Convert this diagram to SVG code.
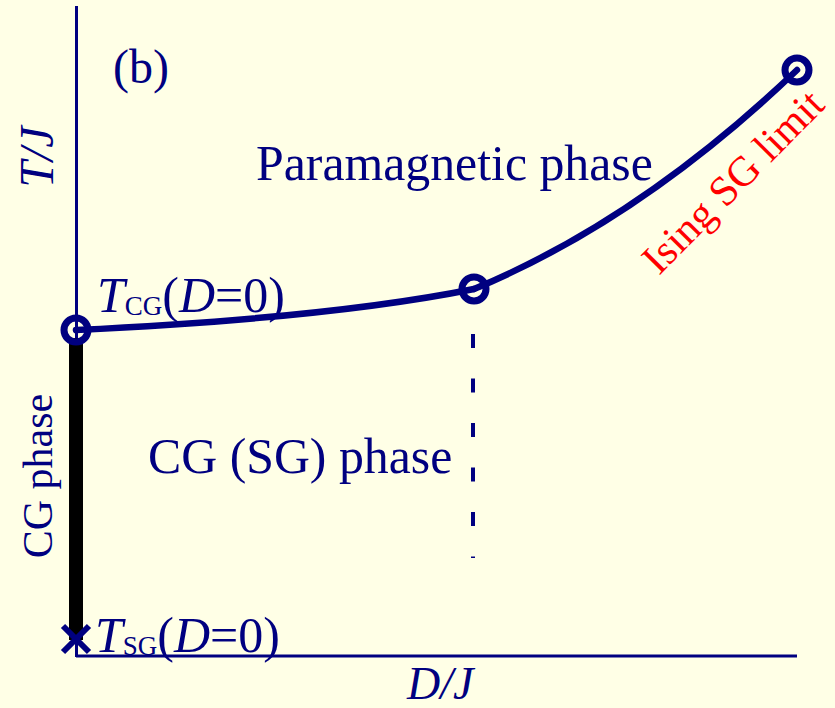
<svg xmlns="http://www.w3.org/2000/svg" width="835" height="708" viewBox="0 0 835 708">
<style>
.t{font-family:"Liberation Serif","Times New Roman",serif;fill:#000080}
.i{font-style:italic}
.ax{stroke:#000080;stroke-width:3;fill:none}
.cv{stroke:#000080;stroke-width:6.5;fill:none;stroke-linecap:round}
.ring{stroke:#000080;stroke-width:7;fill:none}
</style>
<rect width="835" height="708" fill="#FFFFE6"/>
<g id="axes">
<line class="ax" x1="76.5" y1="6" x2="76.5" y2="657"/>
<line class="ax" x1="76" y1="656" x2="797" y2="656"/>
</g>
<g id="connectors">
<path class="cv" d="M76,330 Q330,318 474,289"/>
<path class="cv" d="M474,289 Q640,220 797,70"/>
<line x1="473" y1="334" x2="473" y2="558" stroke="#000080" stroke-width="4" stroke-dasharray="14 30.5"/>
<line x1="76" y1="338" x2="76" y2="640" stroke="#000000" stroke-width="14"/>
</g>
<g id="node-tcg"><circle class="ring" cx="76" cy="330" r="12"/></g>
<g id="node-mid"><circle class="ring" cx="474" cy="289" r="12"/></g>
<g id="node-ising"><circle class="ring" cx="797" cy="70" r="12"/></g>
<g id="node-tsg">
<path d="M63,626 L89,652 M89,626 L63,652" stroke="#000080" stroke-width="6"/>
</g>
<g id="labels">
<text class="t" x="113" y="83" font-size="48">(b)</text>
<text class="t i" font-size="48" transform="translate(53,157) rotate(-90)" text-anchor="middle">T/J</text>
<text class="t" x="256" y="180" font-size="49.8">Paramagnetic phase</text>
<text class="t" x="148" y="473" font-size="49.8">CG (SG) phase</text>
<text class="t" font-size="42" transform="translate(52,476) rotate(-90)" text-anchor="middle">CG phase</text>
<text class="t i" x="407" y="699" font-size="46">D/J</text>
<text class="t" x="97" y="312" font-size="50"><tspan class="i">T</tspan><tspan font-size="27" dy="3">CG</tspan><tspan dy="-3">(</tspan><tspan class="i">D</tspan>=0)</text>
<text class="t" x="95" y="652" font-size="50"><tspan class="i">T</tspan><tspan font-size="27" dy="3">SG</tspan><tspan dy="-3">(</tspan><tspan class="i">D</tspan>=0)</text>
<text font-family="Liberation Serif,serif" font-size="42" fill="#FF0000" transform="translate(659,276) rotate(-45.3)">Ising SG limit</text>
</g>
</svg>
